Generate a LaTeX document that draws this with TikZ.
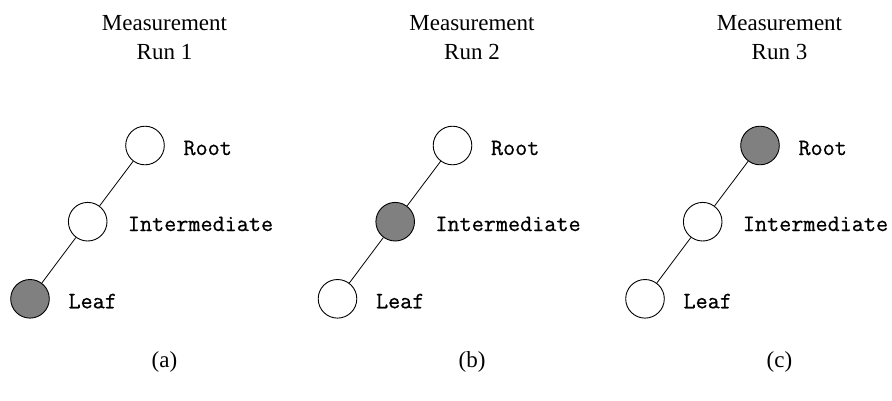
\documentclass[tikz,border=0pt]{standalone}
\usepackage{fontspec}
\setmainfont{Liberation Serif}
\newfontfamily\lblfont{Latin Modern Mono}[FakeBold=0.6]
\begin{document}
\begin{tikzpicture}[x=1pt,y=-1pt,
  vert/.style={circle,draw,line width=0.9pt,minimum size=38.6pt,inner sep=0pt,fill=white},
  hit/.style={vert,fill=gray},
  lbl/.style={anchor=base west,inner sep=0pt,font=\fontsize{23.5}{28}\selectfont\lblfont},
  head/.style={align=center,inner sep=0pt,font=\fontsize{23}{29.5}\selectfont},
  edge/.style={line width=0.8pt}]
\useasboundingbox (0,0) rectangle (892,400);
\foreach \i/\cap/\r/\m/\l in {0/a/vert/vert/hit, 1/b/vert/hit/vert, 2/c/hit/vert/vert}{
  \begin{scope}[xshift=\i*307.5pt]
    \node[head,anchor=north] (h\i) at (164.5,15) {Measurement\\Run \the\numexpr\i+1\relax};
    \node[\r] (r\i) at (145,145.5) {};
    \node[\m] (m\i) at (87.7,221.7) {};
    \node[\l] (l\i) at (30,298.8) {};
    \draw[edge] (r\i) -- (m\i);
    \draw[edge] (m\i) -- (l\i);
    \node[lbl] (rt\i) at (183.3,155) {Root};
    \node[lbl] (mt\i) at (127.7,231) {Intermediate};
    \node[lbl] (lt\i) at (68.3,308.3) {Leaf};
    \node[head] (c\i) at (164.5,362) {(\cap)};
  \end{scope}
}
\end{tikzpicture}
\end{document}
